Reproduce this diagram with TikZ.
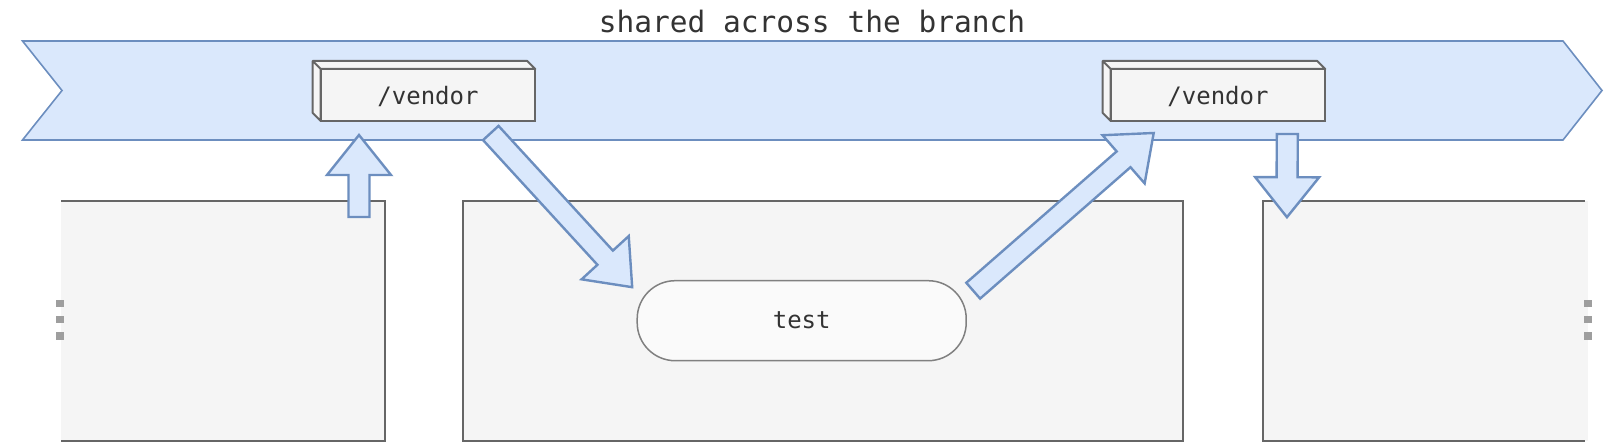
\documentclass[tikz,border=0pt]{standalone}
\usepackage{fontspec}
\setmonofont{DejaVu Sans Mono}
\usetikzlibrary{calc,positioning}
\definecolor{bannerfill}{HTML}{DAE8FC}
\definecolor{bannerline}{HTML}{6C8EBF}
\definecolor{boxfill}{HTML}{F5F5F5}
\definecolor{boxline}{HTML}{666666}
\definecolor{pillfill}{HTML}{FAFAFA}
\definecolor{pillline}{HTML}{808080}
\definecolor{textgray}{HTML}{333333}
\definecolor{dotgray}{HTML}{9E9E9E}

\tikzset{
	banner/.style={fill=bannerfill, draw=bannerline, line width=1.6pt},
	jobbox/.style={fill=boxfill, inner sep=0pt, outer sep=0pt, minimum height=240pt},
	jobline/.style={draw=boxline, line width=2pt},
	vendorbox/.style={fill=boxfill, draw=boxline, line width=2pt, inner sep=0pt, outer sep=0pt, minimum width=214.6pt, minimum height=52pt, text depth=0pt, text=textgray, font=\ttfamily\fontsize{24}{28}\selectfont},
	vendorside/.style={fill=boxfill, draw=boxline, line width=2pt, line join=round},
	pill/.style={rectangle, rounded corners=38pt, fill=pillfill, draw=pillline, line width=1.5pt, outer sep=0pt, minimum width=329pt, minimum height=80pt, text height=15pt, text depth=0pt, text=textgray, font=\ttfamily\fontsize{24}{28}\selectfont},
	fatarrow/.style={fill=bannerfill, draw=bannerline, line width=2.4pt,
		to path={let \p1=(\tikztostart), \p2=(\tikztotarget),
			\n1={atan2(\y2-\y1,\x2-\x1)}, \n2={veclen(\x2-\x1,\y2-\y1)} in
			([shift={(\p1)},rotate=\n1]0,-10.5) -- ([shift={(\p1)},rotate=\n1]\n2-40,-10.5)
			-- ([shift={(\p1)},rotate=\n1]\n2-40,-32) -- ([shift={(\p1)},rotate=\n1]\n2,0)
			-- ([shift={(\p1)},rotate=\n1]\n2-40,32) -- ([shift={(\p1)},rotate=\n1]\n2-40,10.5)
			-- ([shift={(\p1)},rotate=\n1]0,10.5) -- cycle}}
}

\begin{document}
\begin{tikzpicture}[x=1pt, y=-1pt]
	\useasboundingbox (0,0) rectangle (1604,446);

	% branch banner
	\draw[banner] (22.5,41) -- (1563,41) -- (1602,90.5) -- (1563,140) -- (22.5,140) -- (62,90.5) -- cycle;
	\node[anchor=base, text=textgray, font=\ttfamily\fontsize{29.5}{34}\selectfont] (title) at (812,33) {shared across the branch};

	% jobs
	\node[jobbox, minimum width=324pt] (prevjob) at (223,320.7) {};
	\node[jobbox, minimum width=720pt, draw=boxline, line width=2pt] (testjob) at (822.7,320.7) {};
	\node[jobbox, minimum width=325.3pt] (nextjob) at (1425.3,320.7) {};
	\draw[jobline] (prevjob.north west) -- (prevjob.north east) -- (prevjob.south east) -- (prevjob.south west);
	\draw[jobline] ([xshift=-3pt]nextjob.north east) -- (nextjob.north west) -- (nextjob.south west) -- ([xshift=-3pt]nextjob.south east);
	\foreach \dy in {-17.2,-1.2,15.4} {
		\fill[dotgray] ($(prevjob.west)+(-4.7,\dy-3.7)$) rectangle ++(7.5,7.5);
		\fill[dotgray] ($(nextjob.east)+(-3.7,\dy-3.7)$) rectangle ++(7.5,7.5);
	}
	\node[pill] (test) at ($(testjob.center)+(-21,0)$) {test};

	% cached folders
	\node[vendorbox] (vendorA) at (428,95) {/vendor};
	\node[vendorbox] (vendorB) at (1218,95) {/vendor};
	\foreach \v in {vendorA,vendorB}
		\draw[vendorside] (\v.south west) -- ++(-8,-8) -- ($(\v.north west)+(-8,-8)$) -- ($(\v.north east)+(-8,-8)$) -- (\v.north east) -- (\v.north west) -- cycle (\v.north west) -- ++(-8,-8);

	% cache up- and downloads
	\coordinate (upfrom) at ($(prevjob.north east)+(-26,16.3)$);
	\coordinate (upto) at ($(vendorA.south west)+(38.3,14)$);
	\coordinate (getfrom) at ($(vendorA.south east)+(-44.5,12)$);
	\coordinate (getto) at ($(test.west)+(-5,-33.5)$);
	\coordinate (putfrom) at ($(test.east)+(7,-30)$);
	\coordinate (putto) at ($(vendorB.south west)+(43,12)$);
	\coordinate (downfrom) at ($(vendorB.south east)+(-38,13)$);
	\coordinate (downto) at ($(nextjob.north west)+(24.3,16.5)$);
	\draw[fatarrow] (upfrom) to (upto);
	\draw[fatarrow] (getfrom) to (getto);
	\draw[fatarrow] (putfrom) to (putto);
	\draw[fatarrow] (downfrom) to (downto);
\end{tikzpicture}
\end{document}
